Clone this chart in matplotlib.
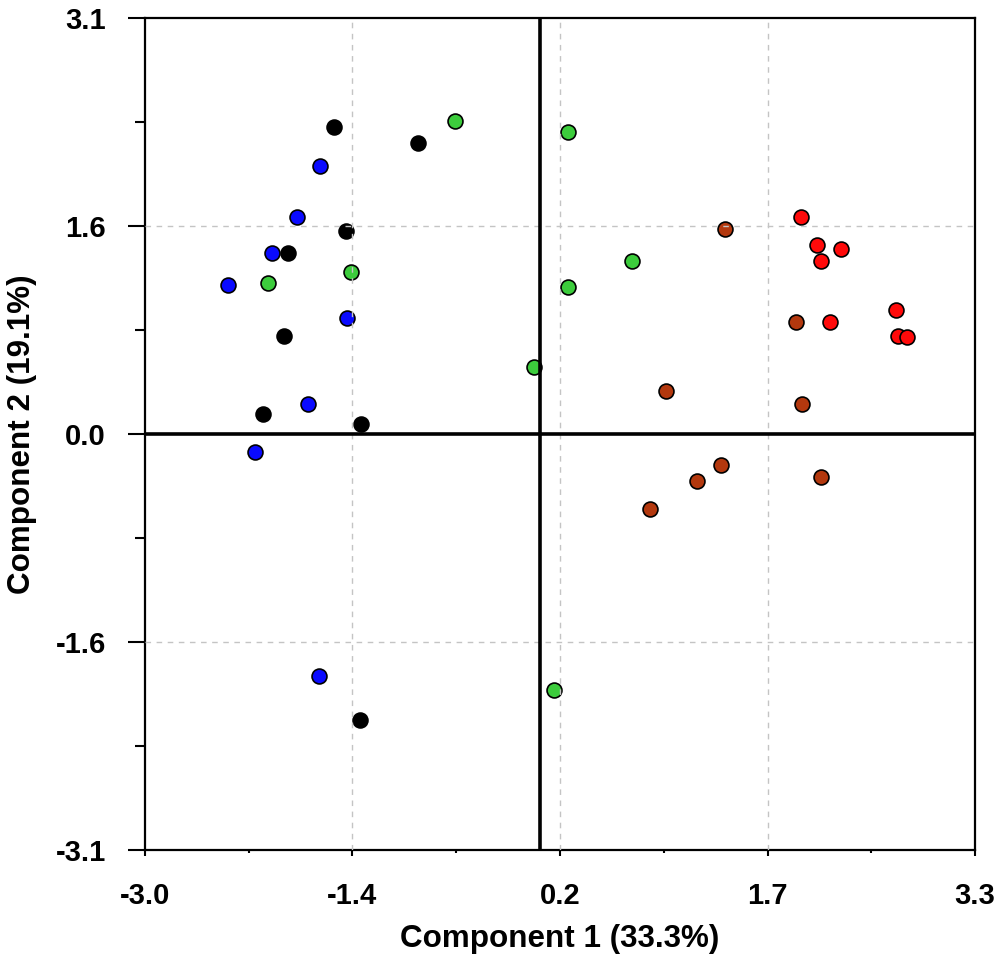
import matplotlib
matplotlib.use('Agg')
import matplotlib.pyplot as plt
import numpy as np
from matplotlib.ticker import FixedLocator

# score values, one group per colour
blue_x = [-1.672, -1.846, -2.036, -2.370, -1.467, -1.763, -2.165, -1.679]
blue_y = [1.997, 1.617, 1.349, 1.110, 0.864, 0.224, -0.134, -1.803]

black_x = [-1.565, -0.928, -1.474, -1.915, -1.945, -2.104, -1.360, -1.368]
black_y = [2.288, 2.168, 1.513, 1.349, 0.730, 0.149, 0.074, -2.131]

green_x = [-0.647, 0.211, -2.066, -1.436, 0.697, 0.211, -0.047, 0.104]
green_y = [2.332, 2.250, 1.125, 1.207, 1.289, 1.095, 0.499, -1.908]

red_x = [1.979, 2.101, 2.283, 2.131, 2.700, 2.199, 2.716, 2.784]
red_y = [1.617, 1.408, 1.379, 1.289, 0.924, 0.835, 0.730, 0.723]

brown_x = [1.402, 1.941, 0.955, 1.987, 1.372, 1.190, 0.833, 2.131]
brown_y = [1.528, 0.835, 0.320, 0.224, -0.231, -0.350, -0.559, -0.320]

x_ticks = [-3.0, -1.425, 0.15, 1.725, 3.3]
x_tick_labels = ['-3.0', '-1.4', '0.2', '1.7', '3.3']
y_ticks = [-3.1, -1.55, 0.0, 1.55, 3.1]
y_tick_labels = ['-3.1', '-1.6', '0.0', '1.6', '3.1']

groups = [
    (blue_x, blue_y, '#0a0aff'),
    (black_x, black_y, '#000000'),
    (green_x, green_y, '#3ccc3c'),
    (red_x, red_y, '#ff0a0a'),
    (brown_x, brown_y, '#b3380e'),
]

plt.rcParams['font.family'] = ['Liberation Sans', 'DejaVu Sans']

fig = plt.figure(figsize=(10, 9.65), dpi=100)
ax = fig.add_axes([0.145, 0.1192, 0.83, 0.8622])

for gx, gy, col in groups:
    ax.scatter(gx, gy, s=115, c=col, edgecolors='black', linewidths=1.2, zorder=1)

# zero lines through the origin, on top of the grid
ax.axvline(0, color='black', lw=2.6, zorder=3)
ax.axhline(0, color='black', lw=2.6, zorder=3)

ax.set_xlim(-3.0, 3.3)
ax.set_ylim(-3.1, 3.1)

ax.xaxis.set_major_locator(FixedLocator(x_ticks))
ax.yaxis.set_major_locator(FixedLocator(y_ticks))
ax.xaxis.set_minor_locator(FixedLocator([(a + b) / 2 for a, b in zip(x_ticks[:-1], x_ticks[1:])]))
ax.yaxis.set_minor_locator(FixedLocator([(a + b) / 2 for a, b in zip(y_ticks[:-1], y_ticks[1:])]))
ax.set_xticklabels(x_tick_labels, fontsize=21, fontweight='bold')
ax.set_yticklabels(y_tick_labels, fontsize=21, fontweight='bold')

ax.set_axisbelow(False)
ax.grid(True, which='major', color='#c4c4c4', linestyle=(0, (4, 4)), linewidth=1.0, zorder=1.5)
# no grid on the frame edges or on the zero line
xg = ax.get_xgridlines()
yg = ax.get_ygridlines()
for gl in [xg[0], xg[-1], yg[0], yg[2], yg[-1]]:
    gl.set_visible(False)

ax.tick_params(axis='y', which='major', direction='out', length=12, width=1.5, pad=16)
ax.tick_params(axis='y', which='minor', direction='out', length=7, width=1.5)
ax.tick_params(axis='x', which='major', direction='out', length=4, width=1.5, pad=19)
ax.tick_params(axis='x', which='minor', direction='out', length=2.5, width=1.5)

for sp in ax.spines.values():
    sp.set_linewidth(1.6)
    sp.set_color('black')

ax.set_xlabel('Component 1 (33.3%)', fontsize=22.6, fontweight='bold')
ax.set_ylabel('Component 2 (19.1%)', fontsize=22.6, fontweight='bold')
ax.xaxis.set_label_coords(0.5, -0.089)
ax.yaxis.set_label_coords(-0.130, 0.5)

fig.savefig('out.png', dpi=100)
